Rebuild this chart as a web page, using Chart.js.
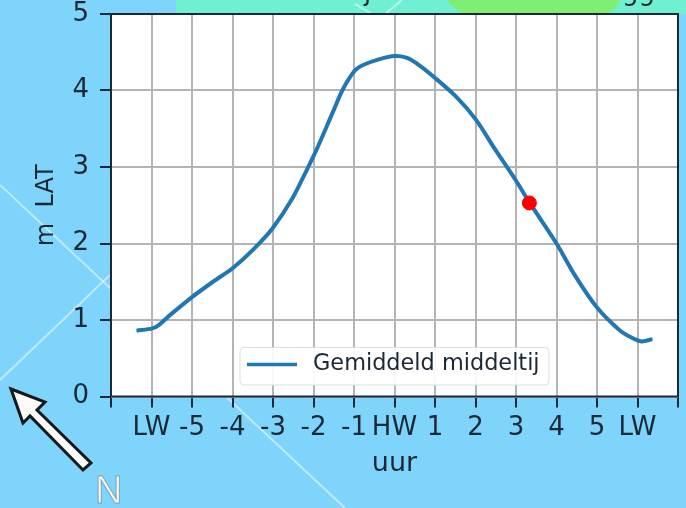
<!DOCTYPE html>
<html>
<head>
<meta charset="utf-8">
<style>
  html, body { margin: 0; padding: 0; background: #7fd4fb; overflow: hidden; }
  canvas { display: block; }
</style>
<script src="https://cdn.jsdelivr.net/npm/chart.js@4"></script>
</head>
<body>
<canvas id="tideChart" width="686" height="508"></canvas>
<script>
// hours relative to high water, water level in m LAT
const hours = [-6.37, -5.98, -5.83, -5.53, -5.0, -4.48, -3.99, -3.49, -3.01, -2.52, -2.14, -1.93, -1.52, -1.28, -0.98, -0.79, -0.37, 0, 0.29, 0.53, 1.01, 1.52, 2.01, 2.46, 2.99, 3.34, 4.0, 4.47, 4.99, 5.53, 5.85, 6.1, 6.37];
const levels = [0.86, 0.89, 0.93, 1.07, 1.3, 1.5, 1.68, 1.92, 2.2, 2.59, 2.99, 3.22, 3.72, 4.01, 4.26, 4.33, 4.41, 4.45, 4.43, 4.36, 4.16, 3.92, 3.62, 3.25, 2.83, 2.53, 2.0, 1.57, 1.17, 0.88, 0.77, 0.72, 0.75];
const markerHour = [3.33];
const markerLevel = [2.53];
const xTickValues = [-7, -6, -5, -4, -3, -2, -1, 0, 1, 2, 3, 4, 5, 6, 7];
const xTickLabels = ['', 'LW', '-5', '-4', '-3', '-2', '-1', 'HW', '1', '2', '3', '4', '5', 'LW', ''];
const seriesName = 'Gemiddeld middeltij';

const ink = '#1b2835';
const font = 'DejaVu Sans';

function toXY(xs, ys) {
  return xs.map((x, i) => ({ x: x, y: ys[i] }));
}

function line(ctx, x1, y1, x2, y2) {
  ctx.beginPath();
  ctx.moveTo(x1, y1);
  ctx.lineTo(x2, y2);
  ctx.stroke();
}

// map pieces behind the chart: water, strip at the top, thin white lines
const backdrop = {
  id: 'backdrop',
  beforeDraw(chart) {
    const ctx = chart.ctx;
    const a = chart.chartArea;
    ctx.save();
    ctx.fillStyle = '#7fd4fb';
    ctx.fillRect(0, 0, 686, 508);
    ctx.fillStyle = '#6ff0d2';
    ctx.fillRect(176, 0, 510, 14);
    ctx.fillStyle = '#7eee74';
    ctx.beginPath();
    ctx.moveTo(448, 0);
    ctx.lineTo(620, 0);
    ctx.quadraticCurveTo(616, 14, 596, 14);
    ctx.lineTo(470, 14);
    ctx.quadraticCurveTo(456, 14, 448, 0);
    ctx.fill();
    ctx.strokeStyle = 'rgba(255,255,255,0.5)';
    ctx.lineWidth = 2;
    line(ctx, 0, 185, 345, 508);
    line(ctx, 0, 380, 110, 275);
    line(ctx, 355, 4, 372, 14);
    line(ctx, 385, 14, 402, 0);
    // cut off title at the top edge, only the descenders show
    ctx.fillStyle = ink;
    ctx.font = '26px "' + font + '"';
    ctx.textAlign = 'left';
    ctx.textBaseline = 'alphabetic';
    ctx.fillText('j', 364, 0);
    ctx.fillText('gg', 622, 0);
    ctx.fillStyle = '#ffffff';
    ctx.fillRect(a.left, a.top, a.right - a.left, a.bottom - a.top);
    ctx.restore();
  },
  beforeDatasetsDraw(chart) {
    // axes frame sits above the grid
    const a = chart.chartArea;
    const ctx = chart.ctx;
    ctx.save();
    ctx.strokeStyle = ink;
    ctx.lineWidth = 2;
    ctx.strokeRect(a.left, a.top, a.right - a.left, a.bottom - a.top);
    ctx.restore();
  },
  afterDraw(chart) {
    const ctx = chart.ctx;
    ctx.save();

    // legend inside the axes
    ctx.fillStyle = 'rgba(255,255,255,0.92)';
    ctx.strokeStyle = '#dcdfe0';
    ctx.lineWidth = 1;
    ctx.beginPath();
    ctx.roundRect(240, 347.5, 309, 37.5, 4);
    ctx.fill();
    ctx.stroke();
    ctx.strokeStyle = '#1f77b4';
    ctx.lineWidth = 3.5;
    line(ctx, 247, 364.5, 297, 364.5);
    ctx.fillStyle = ink;
    ctx.font = '22.4px "' + font + '"';
    ctx.textBaseline = 'middle';
    ctx.textAlign = 'left';
    ctx.fillText(chart.data.datasets[0].label, 313, 364.5);

    // north arrow
    ctx.beginPath();
    ctx.moveTo(11, 389);
    ctx.lineTo(45, 402);
    ctx.lineTo(37, 410);
    ctx.lineTo(91, 463);
    ctx.lineTo(83, 470);
    ctx.lineTo(30, 416);
    ctx.lineTo(23, 423);
    ctx.closePath();
    ctx.fillStyle = '#fbfaf6';
    ctx.strokeStyle = '#15191c';
    ctx.lineWidth = 3;
    ctx.lineJoin = 'miter';
    ctx.fill();
    ctx.stroke();

    ctx.font = '38px "Liberation Sans"';
    ctx.textBaseline = 'alphabetic';
    ctx.fillStyle = '#f6f8f8';
    ctx.strokeStyle = 'rgba(90,110,120,0.55)';
    ctx.lineWidth = 1;
    ctx.fillText('N', 95, 503);
    ctx.strokeText('N', 95, 503);
    ctx.restore();
  }
};

new Chart(document.getElementById('tideChart'), {
  type: 'scatter',
  data: {
    datasets: [
      {
        label: seriesName,
        data: toXY(hours, levels),
        showLine: true,
        borderColor: '#1f77b4',
        borderWidth: 4,
        pointRadius: 0,
        tension: 0.3,
        order: 2
      },
      {
        label: 'Nu',
        data: toXY(markerHour, markerLevel),
        backgroundColor: '#ff0000',
        borderColor: '#ff0000',
        pointRadius: 7,
        order: 1
      }
    ]
  },
  options: {
    responsive: false,
    animation: false,
    layout: { padding: { top: 14, right: 6, left: 0, bottom: 0 } },
    plugins: { legend: { display: false }, tooltip: { enabled: false } },
    scales: {
      x: {
        type: 'linear',
        min: -7,
        max: 7,
        afterFit(scale) {
          scale.height = 111.5;
          scale.paddingLeft = 0;
          scale.paddingRight = 0;
        },
        afterBuildTicks(scale) { scale.ticks = xTickValues.map(v => ({ value: v })); },
        grid: { color: '#b4b4b4', lineWidth: 2, tickColor: ink, tickLength: 11 },
        border: { display: false },
        ticks: {
          autoSkip: false,
          maxRotation: 0,
          padding: 5,
          color: ink,
          font: { family: font, size: 26 },
          callback: (v) => xTickLabels[xTickValues.indexOf(v)]
        },
        title: {
          display: true,
          text: 'uur',
          color: ink,
          font: { family: font, size: 27 },
          padding: { top: 0, bottom: 28 }
        }
      },
      y: {
        min: 0,
        max: 5,
        afterFit(scale) {
          scale.width = 111;
          scale.paddingTop = 0;
          scale.paddingBottom = 0;
        },
        grid: { color: '#b4b4b4', lineWidth: 2, tickColor: ink, tickLength: 11 },
        border: { display: false },
        ticks: {
          stepSize: 1,
          padding: 11,
          color: ink,
          font: { family: font, size: 26 }
        },
        title: {
          display: true,
          text: 'm  LAT',
          color: ink,
          font: { family: font, size: 24 },
          padding: { top: 32, bottom: 0 }
        }
      }
    }
  },
  plugins: [backdrop]
});
</script>
</body>
</html>
